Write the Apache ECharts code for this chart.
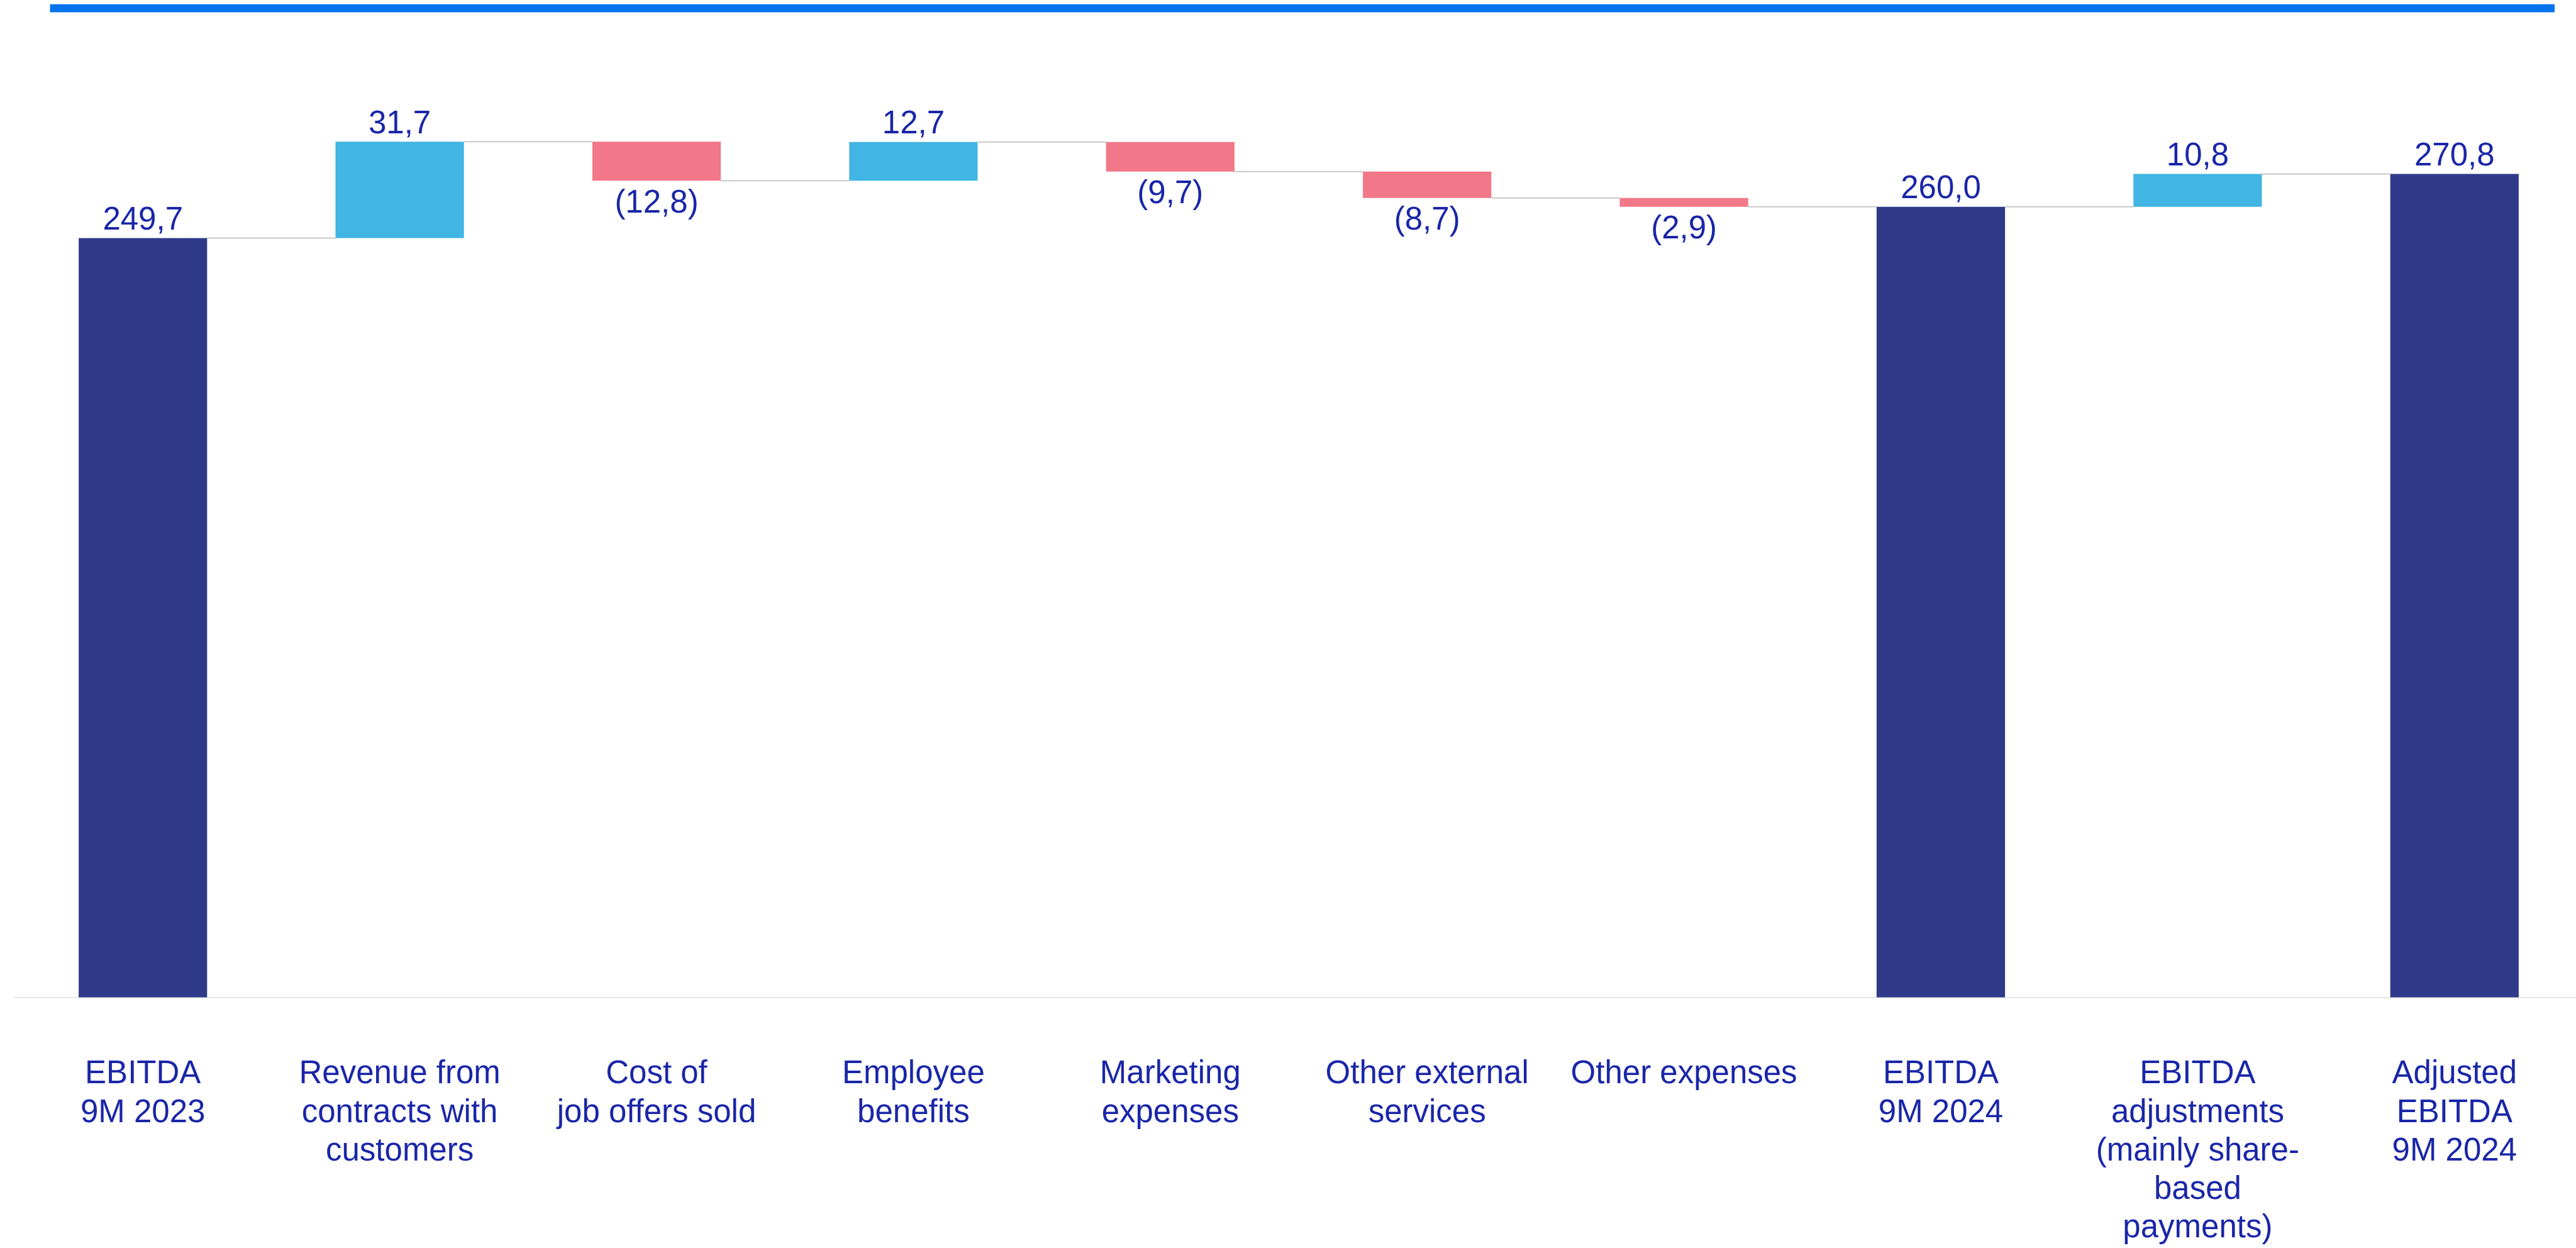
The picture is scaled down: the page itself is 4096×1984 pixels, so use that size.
<!DOCTYPE html>
<html>
<head>
<meta charset="utf-8">
<style>
html,body{margin:0;padding:0;background:#ffffff;overflow:hidden;}
#chart{width:4107px;height:1984px;}
</style>
<script src="https://cdn.jsdelivr.net/npm/echarts@6/dist/echarts.min.js"></script>
</head>
<body>
<div id="chart"></div>
<script>
// ---- data ----
const categories = [
  'EBITDA\n9M 2023',
  'Revenue from\ncontracts with\ncustomers',
  'Cost of\njob offers sold',
  'Employee\nbenefits',
  'Marketing\nexpenses',
  'Other external\nservices',
  'Other expenses',
  'EBITDA\n9M 2024',
  'EBITDA\nadjustments\n(mainly share-\nbased\npayments)',
  'Adjusted\nEBITDA\n9M 2024'
];
const values = [249.7, 31.7, -12.8, 12.7, -9.7, -8.7, -2.9, 260.0, 10.8, 270.8];
const kinds = ['total', 'delta', 'delta', 'delta', 'delta', 'delta', 'delta', 'total', 'delta', 'total'];

// ---- styles ----
const NAVY = '#2F3A8A', CYAN = '#41B5E3', PINK = '#F27788', TEXT = '#1A26A8';
const FONT = '"Liberation Sans", Arial, sans-serif';

// waterfall structure derived from the values
const baseData = [], barData = [], levels = [];
let run = 0;
values.forEach((v, i) => {
  let base, h, color, pos;
  if (kinds[i] === 'total') {
    run = v; base = 0; h = v; color = NAVY; pos = 'top';
  } else if (v >= 0) {
    base = run; h = v; run += v; color = CYAN; pos = 'top';
  } else {
    run += v; base = run; h = -v; color = PINK; pos = 'bottom';
  }
  baseData.push(base);
  barData.push({
    value: h,
    raw: v,
    itemStyle: { color: color },
    label: { position: pos, distance: pos === 'top' ? 2 : 11 }
  });
  levels.push(run);
});
const connectors = [];
for (let i = 0; i < values.length - 1; i++) connectors.push([i, levels[i]]);

function fmt(v) {
  const s = Math.abs(v).toFixed(1).replace('.', ',');
  return v < 0 ? '(' + s + ')' : s;
}

const chart = echarts.init(document.getElementById('chart'), null, { renderer: 'canvas' });
chart.setOption({
  animation: false,
  backgroundColor: '#ffffff',
  grid: { left: 23, right: 0, top: 135.4, bottom: 393.2 },
  xAxis: {
    type: 'category',
    data: categories,
    axisLine: { show: true, lineStyle: { color: '#E6E6E6', width: 2 } },
    axisTick: { show: false },
    axisLabel: {
      interval: 0,
      margin: 92,
      color: TEXT,
      fontFamily: FONT,
      fontSize: 51,
      lineHeight: 61.3,
      align: 'center'
    }
  },
  yAxis: {
    type: 'value',
    min: 0,
    max: 300,
    show: false,
    splitLine: { show: false }
  },
  graphic: [{
    type: 'rect',
    shape: { x: 79.5, y: 6.7, width: 3982.5, height: 12.7 },
    style: { fill: '#0073EE' },
    silent: true
  }],
  series: [
    {
      type: 'bar',
      stack: 'wf',
      data: baseData,
      barWidth: '50%',
      itemStyle: { color: 'transparent' },
      silent: true
    },
    {
      type: 'bar',
      stack: 'wf',
      data: barData,
      barWidth: '50%',
      label: {
        show: true,
        color: TEXT,
        fontFamily: FONT,
        fontSize: 51,
        formatter: p => fmt(p.data.raw)
      }
    },
    {
      type: 'custom',
      data: connectors,
      z: 1,
      renderItem: function (params, api) {
        const p = api.coord([api.value(0), api.value(1)]);
        const band = api.size([1, 0])[0];
        const half = band * 0.25;
        return {
          type: 'line',
          shape: { x1: p[0] + half, y1: p[1], x2: p[0] + band - half, y2: p[1] },
          style: { stroke: '#C8C8C8', lineWidth: 2 }
        };
      }
    }
  ]
});
</script>
</body>
</html>
